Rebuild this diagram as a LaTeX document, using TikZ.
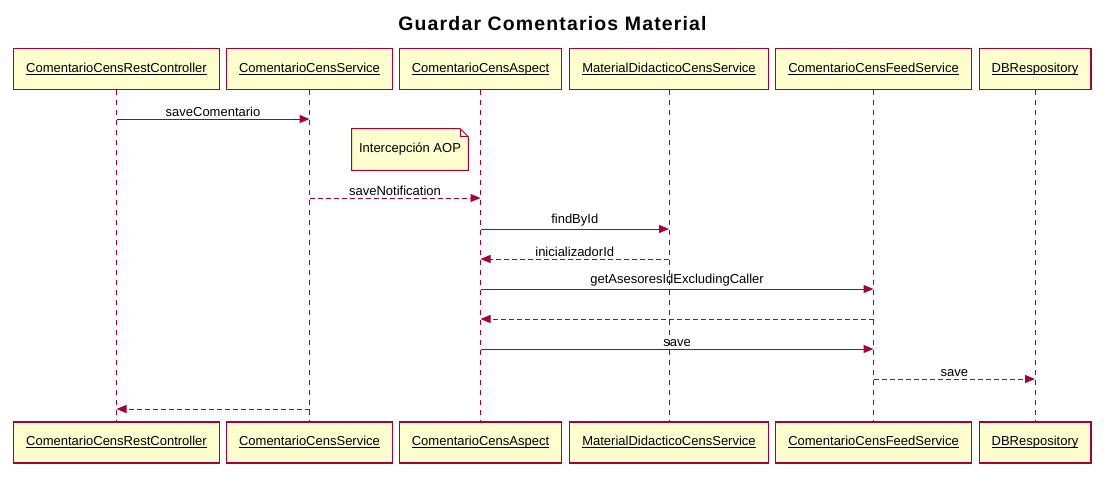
\documentclass[tikz,border=0pt]{standalone}
\usepackage{fontspec}
\setmainfont{Liberation Sans}
\newfontfamily\titlefont[LetterSpace=6]{Liberation Sans}
\usepackage{xcolor}
\usetikzlibrary{arrows.meta}
\definecolor{umlred}{HTML}{A80036}
\definecolor{umlfill}{HTML}{FEFECE}

\begin{document}
\begin{tikzpicture}[
          % Environment Config (1 unit = 1 px, y grows downwards)
          x=0.75pt, y=-0.75pt,
          font=\fontsize{9.75}{11.7}\selectfont,
          Participant/.style={% Style for the participant boxes
            draw=umlred,
            fill=umlfill,
            line width=0.9pt,
            minimum height=30.75pt,
            text height=7pt,
            text depth=2pt,
            inner xsep=9.4pt
          },
          Lifeline/.style={% Style for the lifelines
            umlred,
            line width=0.75pt,
            dash pattern=on 3.75pt off 3.75pt
          },
          Call/.style={% Style for the synchronous messages
            umlred,
            line width=0.75pt,
            -{Triangle[length=7.5pt,width=6pt]}
          },
          Reply/.style={% Style for the dashed messages
            Call,
            dash pattern=on 3.75pt off 2.25pt
          },
          Msg/.style={% Style for the message labels
            midway,
            above,
            inner sep=1.5pt,
            text=black
          },
          Note/.style={% Style for the note text
            minimum width=87pt,
            minimum height=30.75pt,
            inner sep=0pt
          }
        ]

        % Underlined participant name, line just under the baseline
        \def\PName#1{\underline{\smash{#1}}}

        \useasboundingbox (0,0) rectangle (1105,483);

        % Title
        \node[font=\titlefont\bfseries\fontsize{14.6}{17}\selectfont] (title) at (552.5,24)
            {Guardar Comentarios Material};

        % Put the participants in position
        %===Top row===
        \node[Participant] (ctrl-top)     at (116.5,69) {\PName{ComentarioCensRestController}};
        \node[Participant] (svc-top)      at (309.5,69) {\PName{ComentarioCensService}};
        \node[Participant] (aspect-top)   at (480.5,69) {\PName{ComentarioCensAspect}};
        \node[Participant] (material-top) at (669,69)   {\PName{MaterialDidacticoCensService}};
        \node[Participant] (feed-top)     at (873.5,69) {\PName{ComentarioCensFeedService}};
        \node[Participant] (db-top)       at (1035,69)  {\PName{DBRespository}};
        %===Bottom row===
        \node[Participant] (ctrl-bot)     at (116.5,442.5) {\PName{ComentarioCensRestController}};
        \node[Participant] (svc-bot)      at (309.5,442.5) {\PName{ComentarioCensService}};
        \node[Participant] (aspect-bot)   at (480.5,442.5) {\PName{ComentarioCensAspect}};
        \node[Participant] (material-bot) at (669,442.5)   {\PName{MaterialDidacticoCensService}};
        \node[Participant] (feed-bot)     at (873.5,442.5) {\PName{ComentarioCensFeedService}};
        \node[Participant] (db-bot)       at (1035,442.5)  {\PName{DBRespository}};

        % Draw the lifelines
        \draw[Lifeline] (ctrl-top)     -- (ctrl-bot);
        \draw[Lifeline] (svc-top)      -- (svc-bot);
        \draw[Lifeline] (aspect-top)   -- (aspect-bot);
        \draw[Lifeline] (material-top) -- (material-bot);
        \draw[Lifeline] (feed-top)     -- (feed-bot);
        \draw[Lifeline] (db-top)       -- (db-bot);

        % Message rows
        \coordinate (m1) at (0,119);
        \coordinate (m2) at (0,198);
        \coordinate (m3) at (0,229);
        \coordinate (m4) at (0,259);
        \coordinate (m5) at (0,289);
        \coordinate (m6) at (0,319);
        \coordinate (m7) at (0,349);
        \coordinate (m8) at (0,379);
        \coordinate (m9) at (0,409);

        %===Note===
        \node[Note] (aop) at (410,149.5) {};
        \draw[umlred, fill=umlfill, line width=0.75pt]
        (aop.north west)
            -- ([xshift=-6pt]aop.north east) coordinate (fold)
            -- ([yshift=-6pt]aop.north east) coordinate (fold2)
            -- (aop.south east)
            -- (aop.south west)
            -- cycle;
        \draw[umlred, line width=0.75pt] (fold) |- (fold2);
        \node[Note] at (aop) {Intercepción AOP};

        % Draw the messages
        \draw[Call]  (ctrl-top |- m1)     -- (svc-top |- m1)      node[Msg]{saveComentario};
        \draw[Reply] (svc-top |- m2)      -- (aspect-top |- m2)   node[Msg]{saveNotification};
        \draw[Call]  (aspect-top |- m3)   -- (material-top |- m3) node[Msg]{findById};
        \draw[Reply] (material-top |- m4) -- (aspect-top |- m4)   node[Msg]{inicializadorId};
        \draw[Call]  (aspect-top |- m5)   -- (feed-top |- m5)     node[Msg]{getAsesoresIdExcludingCaller};
        \draw[Reply] (feed-top |- m6)     -- (aspect-top |- m6);
        \draw[Call]  (aspect-top |- m7)   -- (feed-top |- m7)     node[Msg]{save};
        \draw[Reply] (feed-top |- m8)     -- (db-top |- m8)       node[Msg]{save};
        \draw[Reply] (svc-top |- m9)      -- (ctrl-top |- m9);

        \end{tikzpicture}
\end{document}
